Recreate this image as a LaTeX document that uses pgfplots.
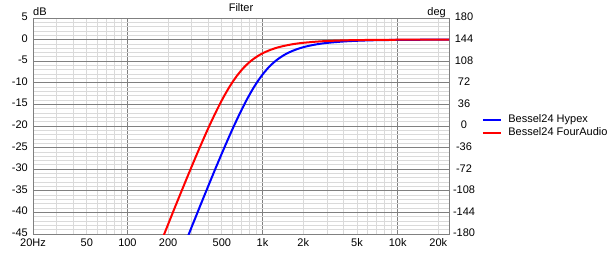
\documentclass[border=0pt]{standalone}
\usepackage{pgfplots}
\pgfplotsset{compat=1.18}
\usepackage{fontspec}
\setmainfont{Liberation Sans}
\definecolor{majgrid}{RGB}{128,128,128}
\definecolor{mingrid}{RGB}{218,218,218}
\definecolor{hypblue}{RGB}{0,0,255}
\definecolor{fared}{RGB}{255,0,0}
\begin{document}
\fontsize{11}{13}\selectfont
\begin{tikzpicture}[font=\fontsize{11}{13}\selectfont]
\path[use as bounding box] (-33pt,-18pt) rectangle (580pt,234pt);
\begin{axis}[
  at={(0pt,0pt)}, anchor=south west,
  scale only axis, width=416pt, height=216pt,
  clip mode=individual,
  xmode=log, xmin=20, xmax=24000,
  ymin=-45, ymax=5,
  xtick={100,1000,10000},
  xticklabels={100,1k,10k},
  minor xtick={20,30,40,50,60,70,80,90,200,300,400,500,600,700,800,900,2000,3000,4000,5000,6000,7000,8000,9000,20000},
  extra x ticks={20,50,200,500,2000,5000,20000},
  extra x tick labels={20Hz,50,200,500,2k,5k,20k},
  extra x tick style={grid=none},
  ytick={-45,-40,...,5},
  yticklabels={-45,-40,-35,-30,-25,-20,-15,-10,-5,0,5},
  minor y tick num=4,
  grid=both,
  major grid style={majgrid, line width=0.8pt},
  minor grid style={mingrid, line width=0.8pt},
  axis line style={majgrid, line width=0.8pt},
  major tick length=0pt, minor tick length=0pt,
  xticklabel style={anchor=north, inner sep=0pt, yshift=-4.3pt},
  yticklabel style={anchor=east, inner sep=0pt, xshift=-5pt, yshift=1.2pt},
  legend style={at={(1,0.5)}, anchor=west, xshift=32.7pt, draw=none, fill=none,
    inner sep=0pt, column sep=6.5pt, row sep=2.5pt,
    nodes={inner sep=0pt, text height=8pt, text depth=2.5pt}},
  legend cell align=left,
  legend image code/.code={\draw[#1, line width=2pt] (0pt,0pt) -- (18pt,0pt);},
]
\addplot[color=hypblue, line width=2pt, smooth] coordinates {
(249.6,-49.52)(280.8,-45.50)(312,-41.92)(351,-37.95)(390,-34.44)(436.8,-30.70)(499.2,-26.39)(561.6,-22.70)(624,-19.52)(702,-16.17)(780,-13.41)(873.6,-10.75)(982.8,-8.40)(1107.6,-6.45)(1248,-4.94)(1404,-3.80)(1560,-3.01)(1747,-2.36)(1950,-1.86)(2184,-1.47)(2496,-1.11)(2808,-0.87)(3120,-0.71)(3900,-0.45)(4680,-0.31)(6240,-0.17)(7800,-0.11)(10920,-0.06)(15600,-0.03)(24000,-0.01)};
\addlegendentry{Bessel24 Hypex}
\addplot[color=fared, line width=2pt, smooth] coordinates {
(164,-49.52)(184.5,-45.50)(205,-41.92)(230.6,-37.95)(256.3,-34.44)(287,-30.70)(328,-26.39)(369,-22.70)(410,-19.52)(461.3,-16.17)(512.5,-13.41)(574,-10.75)(645.8,-8.40)(727.8,-6.45)(820,-4.94)(922.5,-3.80)(1025,-3.01)(1148,-2.36)(1281,-1.86)(1435,-1.47)(1640,-1.11)(1845,-0.87)(2050,-0.71)(2563,-0.45)(3075,-0.31)(4100,-0.17)(5125,-0.11)(7175,-0.06)(10250,-0.03)(15375,-0.01)(24000,0)};
\addlegendentry{Bessel24 FourAudio}
\node[anchor=base, inner sep=0pt] at (axis description cs:0.5,1) [yshift=6.8pt] {Filter};
\node[anchor=base west, inner sep=0pt] at (axis description cs:0,1) [yshift=2.8pt] {dB};
\node[anchor=base east, inner sep=0pt] at (axis description cs:1,1) [yshift=2.8pt, xshift=-3pt] {deg};
\end{axis}
\begin{axis}[
  at={(0pt,0pt)}, anchor=south west,
  scale only axis, width=416pt, height=216pt,
  xmode=log, xmin=20, xmax=24000,
  ymin=-180, ymax=180,
  hide x axis,
  axis y line*=right,
  y axis line style={draw=none},
  ytick={-180,-144,...,180},
  yticklabels={-180,-144,-108,-72,-36,0,36,72,108,144,180},
  major tick length=0pt, minor tick length=0pt,
  yticklabel style={anchor=center, inner sep=0pt, xshift=15pt, yshift=0.8pt},
]
\end{axis}
\end{tikzpicture}
\end{document}
